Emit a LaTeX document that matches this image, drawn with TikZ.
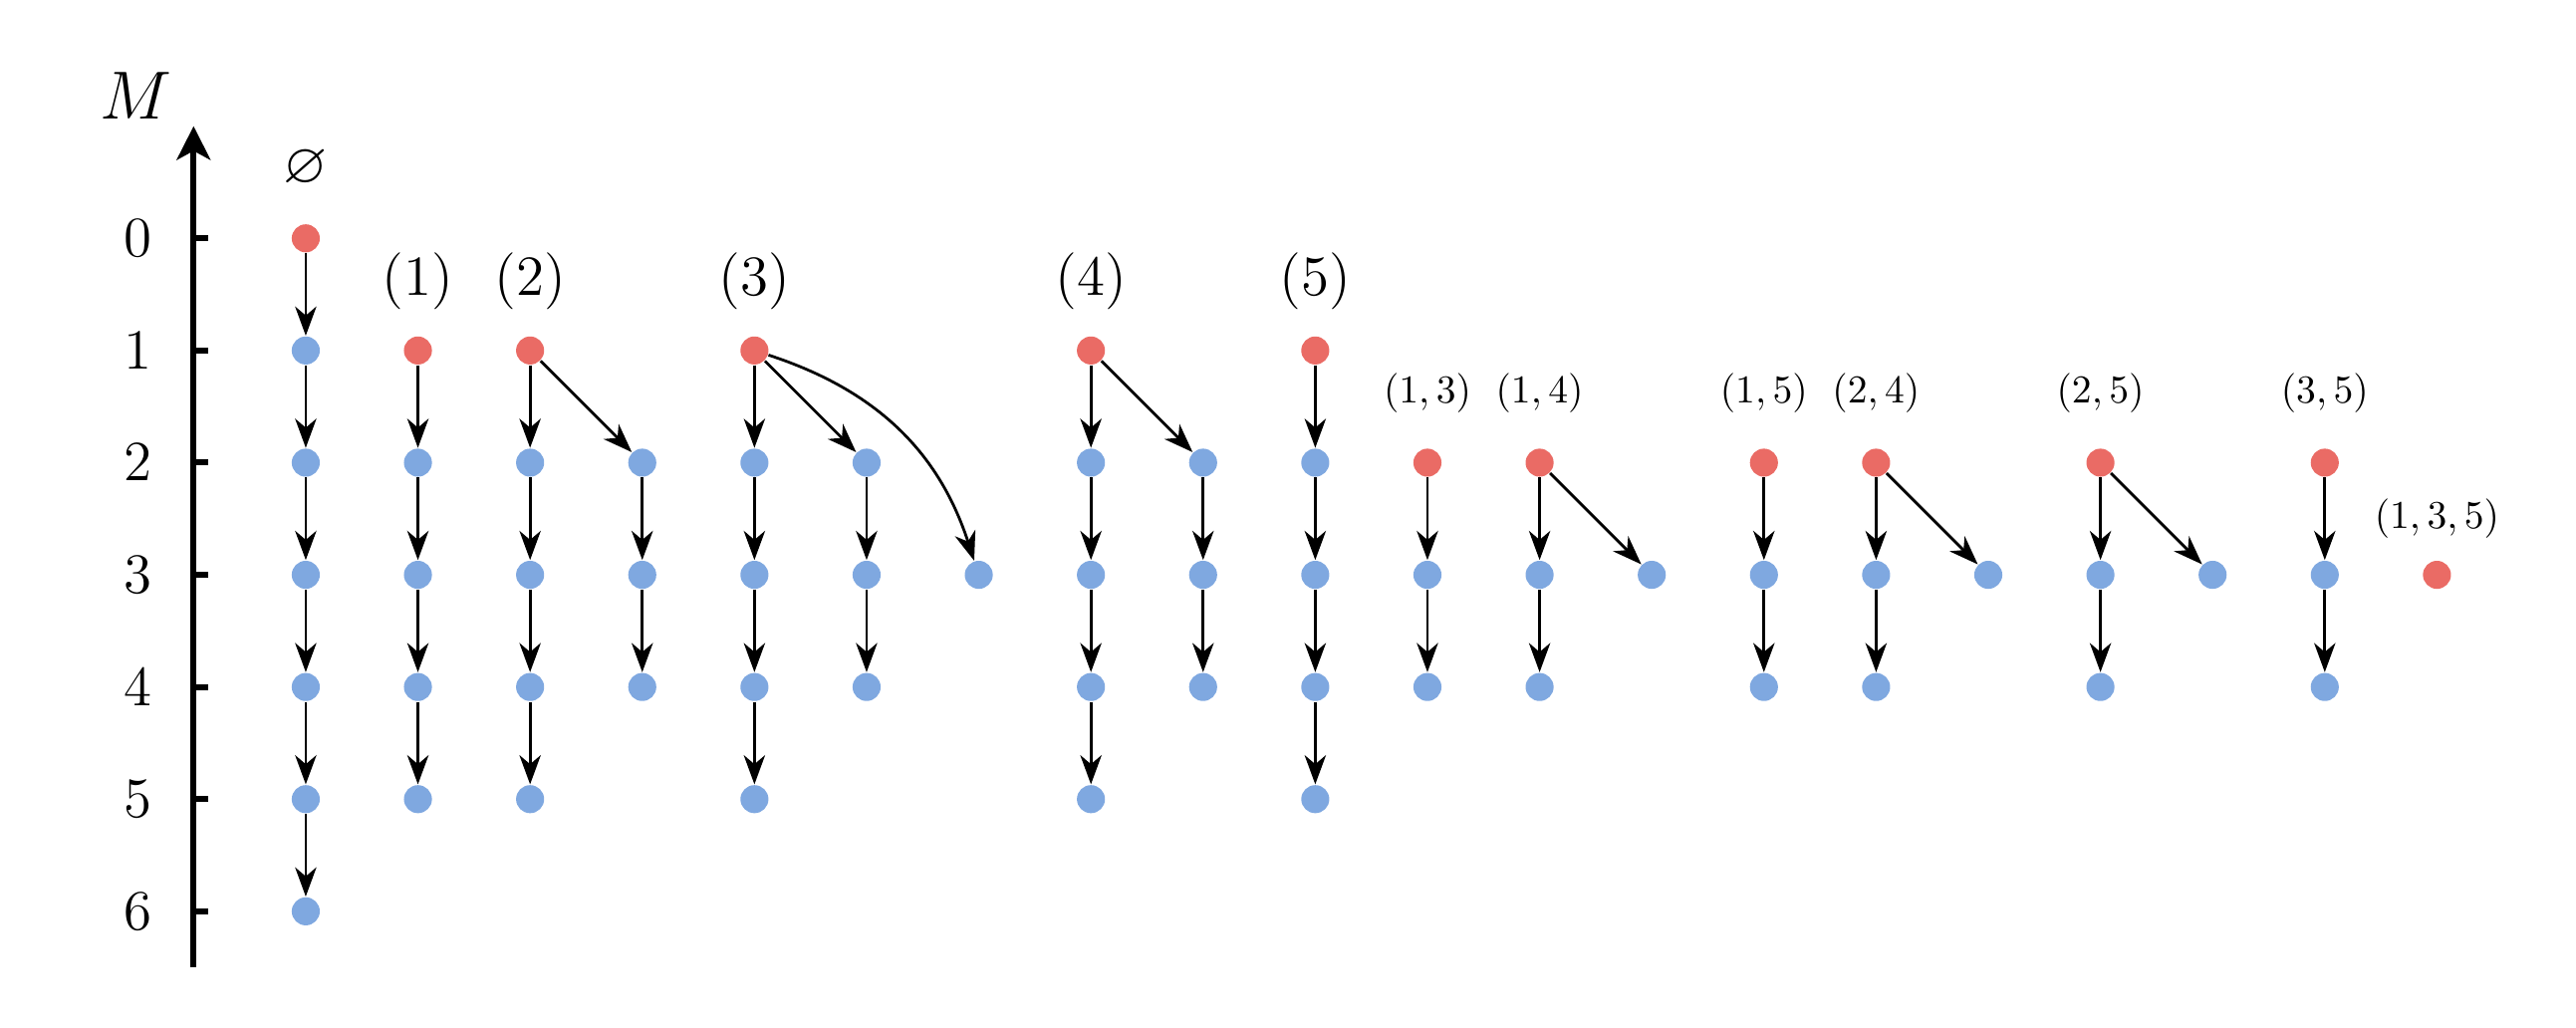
\documentclass[tikz,border=0pt]{standalone}
\usepackage{amssymb}
\usepackage{amsmath}
\usepackage{tikz}
\usetikzlibrary{arrows.meta}

\definecolor{dotred}{RGB}{234,107,101}
\definecolor{dotblue}{RGB}{127,168,224}

\begin{document}
\begin{tikzpicture}[
    mdot/.style={circle, fill=#1, inner sep=0pt, minimum size=2.5mm},
    edge/.style={-{Stealth[length=2.6mm,width=1.9mm,inset=0.8mm]}, line width=0.7pt},
    axis/.style={line width=1.5pt}
  ]
       \useasboundingbox (-2.726,-7.04) rectangle (20.24,2.125);

       % M axis
       \draw[axis, -{Stealth[length=3mm,width=3mm,inset=0.8mm]}] (-1,-6.5) -- (-1,1);
       \node(M) at (-1.51,1.27) {\LARGE $M$};
       \foreach \m in {0,...,6} {
         \draw[axis] (-1,-\m) -- (-0.87,-\m);
         \node(T\m) at (-1.5,-\m) {\Large $\m$};
       }

       % columns: x / first M / last M / colour of the first dot
       \foreach \c/\t/\b/\k in {0/0/6/dotred, 1/1/5/dotred, 2/1/5/dotred, 3/2/4/dotblue,
           4/1/5/dotred, 5/2/4/dotblue, 6/3/3/dotblue, 7/1/5/dotred, 8/2/4/dotblue,
           9/1/5/dotred, 10/2/4/dotred, 11/2/4/dotred, 12/3/3/dotblue, 13/2/4/dotred,
           14/2/4/dotred, 15/3/3/dotblue, 16/2/4/dotred, 17/3/3/dotblue, 18/2/4/dotred,
           19/3/3/dotred} {
         \foreach \m in {\t,...,\b} {
           \ifnum\m=\t \def\col{\k}\else\def\col{dotblue}\fi
           \node[mdot=\col](c\c-\m) at (\c,-\m) {};
         }
         \ifnum\b>\t
           \pgfmathtruncatemacro\bb{\b-1}
           \foreach \m in {\t,...,\bb} {
             \pgfmathtruncatemacro\n{\m+1}
             \draw[edge] (c\c-\m) -- (c\c-\n);
           }
         \fi
       }

       % branches
       \draw[edge] (c2-1) -- (c3-2);
       \draw[edge] (c4-1) -- (c5-2);
       \draw[edge] (c4-1) to[bend left=27] (c6-3);
       \draw[edge] (c7-1) -- (c8-2);
       \draw[edge] (c11-2) -- (c12-3);
       \draw[edge] (c14-2) -- (c15-3);
       \draw[edge] (c16-2) -- (c17-3);

       % labels
       \node(N0) at (0,0.62) {\Large $\varnothing$};
       \node(N1) at (1,-0.38) {\Large $(1)$};
       \node(N2) at (2,-0.38) {\Large $(2)$};
       \node(N3) at (4,-0.38) {\Large $(3)$};
       \node(N4) at (7,-0.38) {\Large $(4)$};
       \node(N5) at (9,-0.38) {\Large $(5)$};
       \node(N13) at (10,-1.38) {$(1,3)$};
       \node(N14) at (11,-1.38) {$(1,4)$};
       \node(N15) at (13,-1.38) {$(1,5)$};
       \node(N24) at (14,-1.38) {$(2,4)$};
       \node(N25) at (16,-1.38) {$(2,5)$};
       \node(N35) at (18,-1.38) {$(3,5)$};
       \node(N135) at (19,-2.5) {$(1,3,5)$};

      \end{tikzpicture}
\end{document}
